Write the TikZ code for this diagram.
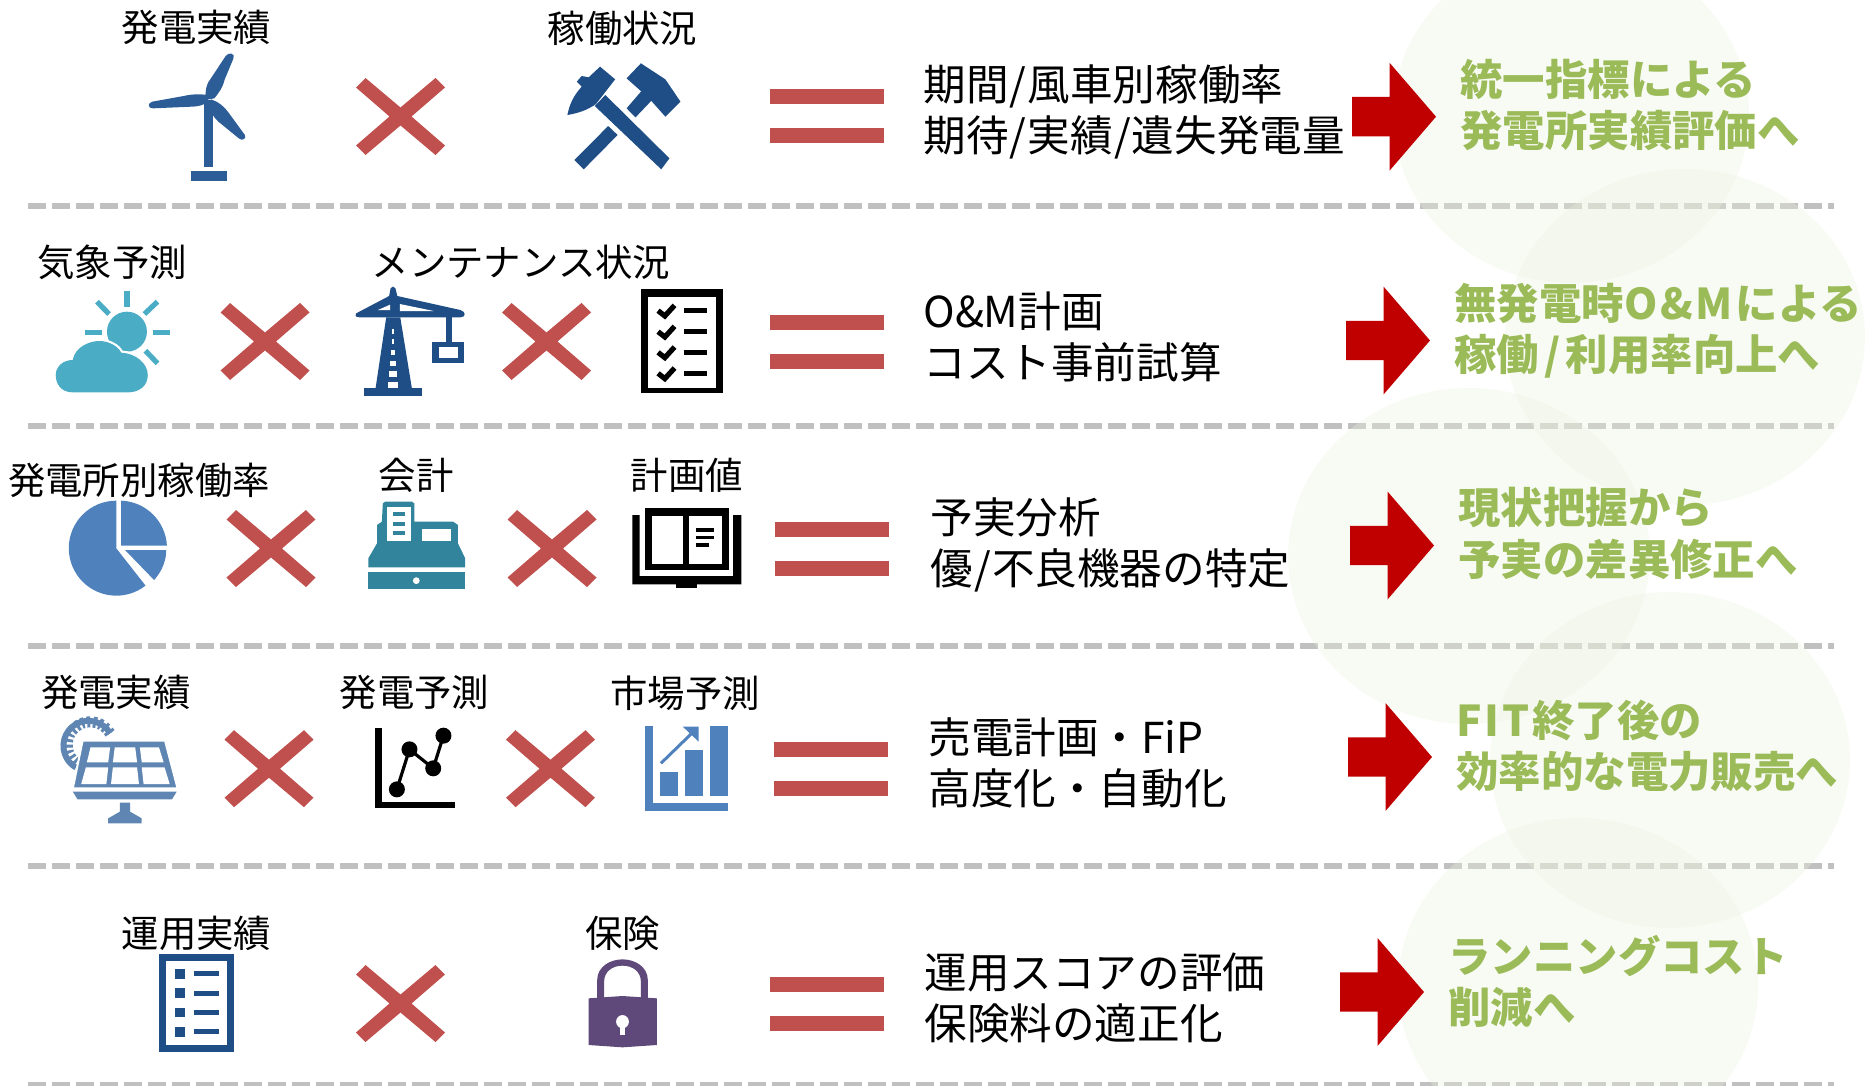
\documentclass[tikz,border=0pt]{standalone}
\usepackage{fontspec}
\setmainfont{Noto Sans CJK JP}
\definecolor{sepgray}{HTML}{C0C0C0}
\definecolor{blobfill}{HTML}{EBF1DE}
\definecolor{markred}{HTML}{C0504D}
\definecolor{arrowred}{HTML}{C00000}
\definecolor{goalgreen}{HTML}{9BBB59}
\definecolor{navy}{HTML}{1F4E87}
\definecolor{skyblue}{HTML}{4BACC6}
\definecolor{midblue}{HTML}{4F81BD}
\definecolor{tealreg}{HTML}{31849B}
\definecolor{solarblue}{HTML}{5F86B3}
\definecolor{lockpurple}{HTML}{5F497A}
\newcommand{\slsh}{\kern.6pt/\kern.6pt}
\newcommand{\wslsh}{\kern2.6pt/\kern2.6pt}
\tikzset{
  zoomed/.style n args={3}{shift={(#1,#2)},x=#3pt,y=-0.16667pt},
  seprule/.style={sepgray,line width=3pt,dash pattern=on 9pt off 3pt},
  blob/.style={fill=blobfill,fill opacity=0.33,draw=none},
  lbl/.style={inner sep=0pt,font=\fontsize{18.7}{22}\selectfont,text=black},
  result/.style={inner sep=0pt,anchor=west,align=left,font=\fontsize{21.3}{25.4}\selectfont,text=black},
  goal/.style={inner sep=0pt,anchor=west,align=left,font=\fontsize{21.2}{25.6}\selectfont\bfseries,text=goalgreen},
  crossmark/.pic={\fill[markred] (-44.5,-29) -- (-35,-38.5) -- (0,-9) -- (35,-38.5) -- (44.5,-29) -- (11,0) -- (44.5,29) -- (35,38.5) -- (0,9) -- (-35,38.5) -- (-44.5,29) -- (-11,0) -- cycle;},
  equalmark/.pic={\fill[markred] (-57,-27) rectangle (57,-12); \fill[markred] (-57,12) rectangle (57,27);},
  redarrow/.pic={\fill[arrowred] (0,-19.7) -- (37.5,-19.7) -- (37.5,-54) -- (84,0) -- (37.5,54) -- (37.5,19.7) -- (0,19.7) -- cycle;},
}
\begin{document}
\begin{tikzpicture}[x=0.5pt,y=-0.5pt]
\useasboundingbox (0,0) rectangle (1874,1086);
\clip (0,0) rectangle (1874,1086);
% separators
\foreach \yy in {205.5,425.7,646,866,1085}{\draw[seprule] (28,\yy) -- (1834,\yy);}
% background blobs
\fill[blob] (1571,115) ellipse [x radius=178,y radius=168];
\fill[blob] (1685,337) ellipse [x radius=180,y radius=168];
\fill[blob] (1469,556) ellipse [x radius=181,y radius=168];
\fill[blob] (1670,760) ellipse [x radius=180,y radius=168];
\fill[blob] (1578,986) ellipse [x radius=180,y radius=168];
% marks
\pic at (400.5,116.5) {crossmark};
\pic at (265,341.5) {crossmark};
\pic at (546.5,341.5) {crossmark};
\pic at (271,548.5) {crossmark};
\pic at (552,548.5) {crossmark};
\pic at (269,768.7) {crossmark};
\pic at (550.5,768.7) {crossmark};
\pic at (400.5,1003.5) {crossmark};
\pic at (826.5,116) {equalmark};
\pic at (826.5,341.5) {equalmark};
\pic at (831.5,548.5) {equalmark};
\pic at (830.5,769) {equalmark};
\pic at (826.5,1003.5) {equalmark};
\pic at (1352,116.7) {redarrow};
\pic at (1346,340.5) {redarrow};
\pic at (1350,545.5) {redarrow};
\pic at (1348,757) {redarrow};
\pic at (1340,992) {redarrow};
% labels
\node[lbl] (a1) at (196.5,27.5) {発電実績};
\node[lbl] (a2) at (622.5,28) {稼働状況};
\node[lbl] (b1) at (112,262) {気象予測};
\node[lbl] (b2) at (521,262) {メンテナンス状況};
\node[lbl] (c1) at (139,480) {発電所別稼働率};
\node[lbl] (c2) at (416,475) {会計};
\node[lbl] (c3) at (687,475) {計画値};
\node[lbl] (d1) at (116,692) {発電実績};
\node[lbl] (d2) at (414.5,692) {発電予測};
\node[lbl] (d3) at (685,693) {市場予測};
\node[lbl] (e1) at (196.5,933.5) {運用実績};
\node[lbl] (e2) at (622.5,933.5) {保険};
% results
\node[result] (r1) at (923,112) {期間\slsh 風車別稼働率\\期待\slsh 実績\slsh 遺失発電量};
\node[result] (r2) at (923,337) {O\&M計画\\コスト事前試算};
\node[result] (r3) at (930,545) {予実分析\\優\slsh 不良機器の特定};
\node[result] (r4) at (928,763) {売電計画・FiP\\高度化・自動化};
\node[result] (r5) at (924,998) {運用スコアの評価\\保険料の適正化};
% goals
\node[goal] (g1) at (1460,105) {統一指標による\\発電所実績評価へ};
\node[goal] (g2) at (1454,330.5) {無発電時O\kern1.4pt\&\kern1.4pt M\kern1.4pt による\\稼働\wslsh 利用率向上へ};
\node[goal] (g3) at (1458,533.5) {現状把握から\\予実の差異修正へ};
\node[goal] (g4) at (1456,745.5) {F\kern1.4pt I\kern1.4pt T\kern1.4pt 終了後の\\効率的な電力販売へ};
\node[goal] (g5) at (1448,981.5) {ランニングコスト\\削減へ};
% turbine + hammers
\begin{scope}[zoomed={100}{0}{0.2041}]
  \fill[navy!70!midblue] (254,300) rectangle (277,500);
  \fill[navy!70!midblue] (222,512) rectangle (310,542);
  \fill[navy!70!midblue] (258,300) .. controls (258,265) and (262,250) .. (270,238) -- (308,168) .. controls (315,155) and (332,160) .. (327,175) -- (305,240) .. controls (300,265) and (290,280) .. (280,295) -- cycle;
  \fill[navy!70!midblue] (265,285) .. controls (245,282) and (225,282) .. (205,288) -- (128,305) .. controls (115,310) and (118,326) .. (130,325) -- (225,320) .. controls (240,320) and (255,315) .. (265,305) -- cycle;
  \fill[navy!70!midblue] (272,298) .. controls (290,305) and (305,320) .. (315,338) -- (355,405) .. controls (360,415) and (348,425) .. (340,415) -- (290,365) .. controls (278,350) and (268,335) .. (265,315) -- cycle;
  % hammers
  \fill[navy] (1225,200) -- (1262,238) -- (1215,312) .. controls (1195,330) and (1170,340) .. (1145,345) .. controls (1150,315) and (1158,290) .. (1180,260) -- (1168,245) -- (1180,228) -- (1197,232) -- cycle;
  \fill[navy] (1238,285) -- (1395,475) -- (1375,508) -- (1212,318) -- cycle;
  \fill[navy] (1325,190) -- (1385,238) -- (1422,305) -- (1385,350) -- (1345,295) -- (1290,235) -- cycle;
  \fill[navy] (1330,268) -- (1290,325) -- (1312,352) -- (1354,298) -- cycle;
  \fill[navy] (1245,378) -- (1268,405) -- (1185,508) -- (1162,480) -- cycle;
\end{scope}
% sun, crane, checklist
\begin{scope}[zoomed={0}{230}{0.2423}]
  \fill[skyblue] (262,305) ellipse [x radius=10pt,y radius=10pt];
  \foreach \ax/\ay/\bx/\by in {262/182/262/230,200/215/225/252,325/215/298/252,175/307/210/307,315/307/350/307,300/362/325/400}
    {\draw[skyblue,line width=2.6pt] (\ax,\ay) -- (\bx,\by);}
  \draw[white,line width=2.2pt,line join=round] (150,487) .. controls (125,487) and (115,460) .. (115,435) .. controls (115,410) and (130,390) .. (150,390) .. controls (155,350) and (185,333) .. (205,333) .. controls (225,333) and (245,350) .. (250,368) .. controls (280,370) and (305,400) .. (305,435) .. controls (305,470) and (285,487) .. (265,487) -- cycle;
  \fill[skyblue] (150,487) .. controls (125,487) and (115,460) .. (115,435) .. controls (115,410) and (130,390) .. (150,390) .. controls (155,350) and (185,333) .. (205,333) .. controls (225,333) and (245,350) .. (250,368) .. controls (280,370) and (305,400) .. (305,435) .. controls (305,470) and (285,487) .. (265,487) -- cycle;
  % crane
  \fill[navy] (797,262) -- (826,262) -- (850,475) -- (775,475) -- cycle;
  \fill[navy] (752,475) rectangle (870,497);
  \fill[navy] (735,250) -- (803,198) -- (806,175) .. controls (808,168) and (814,168) .. (816,175) -- (820,198) -- (950,240) .. controls (962,245) and (962,262) .. (950,262) -- (742,262) .. controls (732,262) and (732,252) .. (735,250) -- cycle;
  \fill[white] (780,240) -- (805,224) -- (805,240) -- cycle;
  \fill[white] (825,222) -- (895,243) -- (825,243) -- cycle;
  \fill[navy] (920,262) rectangle (932,335);
  \fill[navy] (892,335) rectangle (958,400);
  \fill[white] (905,350) rectangle (945,385);
  \foreach \yy/\ww in {305/2,335/3,368/5,400/7,432/9,465/11}
    {\fill[white] (811-\ww,\yy-8) rectangle (811+\ww,\yy+8);}
  % checklist
  \fill[black] (1323,178) rectangle (1492,490);
  \fill[white] (1338,202) rectangle (1478,475);
  \foreach \yy in {240,303,365,428}{
    \draw[black,line width=2.6pt] (1358,\yy+2) -- (1372,\yy+18) -- (1392,\yy-14);
    \fill[black] (1412,\yy-5) rectangle (1458,\yy+10);
  }
\end{scope}
% pie, register, book
\begin{scope}[zoomed={0}{450}{0.2423}]
  \fill[midblue] (240,295) -- (240,152) arc[start angle=90,end angle=308,radius=23.75pt] -- cycle;
  \fill[midblue] (250,287) -- (250,152) arc[start angle=88,end angle=3,radius=23.75pt] -- cycle;
  \fill[midblue] (258,300) -- (343,300) -- (342,320) .. controls (338,350) and (330,370) .. (318,390) -- cycle;
  % register
  \fill[tealreg] (795,155) -- (850,155) -- (855,160) -- (855,215) -- (935,215) -- (945,225) -- (945,280) -- (960,325) -- (960,352) -- (760,352) -- (760,325) -- (778,280) -- (778,225) -- (788,215) -- (790,160) -- cycle;
  \fill[white] (798,170) rectangle (848,272);
  \foreach \yy in {185,215,243}{\fill[tealreg] (810,\yy) rectangle (836,\yy+13);}
  \fill[white] (870,237) rectangle (930,273);
  \fill[tealreg] (760,367) rectangle (960,417);
  \fill[white] (859,392) ellipse [x radius=1.7pt,y radius=1.7pt];
  % book
  \fill[black] (1330,175) rectangle (1505,360);
  \fill[white] (1345,197) rectangle (1410,342);
  \fill[white] (1422,197) rectangle (1490,342);
  \fill[black] (1437,235) rectangle (1473,245);
  \fill[black] (1437,258) rectangle (1473,268);
  \fill[black] (1437,280) rectangle (1463,290);
  \fill[black] (1305,195) -- (1320,195) -- (1320,378) -- (1513,378) -- (1513,195) -- (1530,195) -- (1530,403) -- (1305,403) -- cycle;
  \fill[black] (1395,403) rectangle (1438,415);
\end{scope}
% solar, line chart, bars
\begin{scope}[zoomed={30}{670}{0.2328}]
  \draw[solarblue,line width=5.5pt,dash pattern=on 1.5pt off 1.5pt] (172,190) arc[start angle=30,end angle=240,radius=11.5pt];
  \draw[solarblue,line width=3pt] (172,190) arc[start angle=30,end angle=240,radius=12.5pt];
  \fill[solarblue,draw=white,line width=1pt] (113,212) -- (290,212) -- (317,355) -- (92,355) -- cycle;
  \fill[white] (130,232) -- (172,232) -- (168,277) -- (122,277) -- cycle;
  \fill[white] (182,232) -- (226,232) -- (230,277) -- (178,277) -- cycle;
  \fill[white] (236,232) -- (277,232) -- (287,277) -- (240,277) -- cycle;
  \fill[white] (120,292) -- (168,292) -- (164,342) -- (110,342) -- cycle;
  \fill[white] (178,292) -- (230,292) -- (234,342) -- (174,342) -- cycle;
  \fill[white] (240,292) -- (289,292) -- (300,342) -- (244,342) -- cycle;
  \fill[solarblue] (92,365) -- (315,365) -- (305,388) -- (102,388) -- cycle;
  \fill[solarblue] (193,398) -- (215,398) -- (215,425) -- (240,445) -- (240,460) -- (168,460) -- (168,445) -- (193,425) -- cycle;
  % line chart
  \fill[black] (742,175) rectangle (757,415);
  \fill[black] (742,397) rectangle (913,415);
  \draw[black,line width=1.6pt] (788,358) -- (815,238) -- (866,295) -- (888,197);
  \foreach \px/\py in {788/358,815/238,866/295,888/197}{\fill[black] (\px,\py) ellipse [x radius=4pt,y radius=4pt];}
  % bars
  \fill[midblue] (1321,168) rectangle (1338,422);
  \fill[midblue] (1321,400) rectangle (1499,422);
  \fill[midblue] (1352,305) rectangle (1391,378);
  \fill[midblue] (1407,240) rectangle (1446,378);
  \fill[midblue] (1461,168) rectangle (1499,378);
  \draw[midblue,line width=1.5pt] (1355,280) -- (1425,185);
  \fill[midblue] (1402,170) -- (1436,170) -- (1436,215) -- cycle;
\end{scope}
% list, lock
\begin{scope}[zoomed={100}{900}{0.2041}]
  \fill[navy] (145,163) rectangle (328,455);
  \fill[white] (162,183) rectangle (312,435);
  \foreach \yy in {207,265,323,381}{
    \fill[navy] (183,\yy) rectangle (208,\yy+29);
    \fill[navy] (230,\yy+7) rectangle (292,\yy+22);
  }
  \fill[lockpurple] (1218,295) -- (1218,240) .. controls (1218,200) and (1250,178) .. (1280,178) .. controls (1310,178) and (1342,200) .. (1342,240) -- (1342,295) -- (1325,295) -- (1325,245) .. controls (1325,215) and (1305,197) .. (1280,197) .. controls (1255,197) and (1235,215) .. (1235,245) -- (1235,295) -- cycle;
  \fill[lockpurple] (1197,295) -- (1280,288) -- (1364,295) -- (1364,435) -- (1280,442) -- (1197,435) -- cycle;
  \fill[white] (1280,365) ellipse [x radius=3.2pt,y radius=3.3pt];
  \fill[white] (1273,375) rectangle (1287,405);
\end{scope}
\end{tikzpicture}
\end{document}
